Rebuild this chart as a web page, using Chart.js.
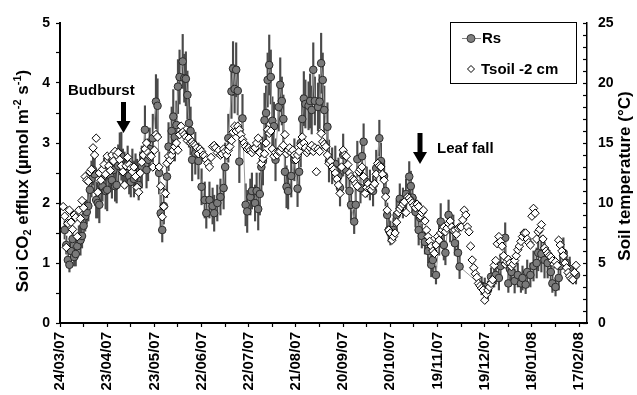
<!DOCTYPE html>
<html>
<head>
<meta charset="utf-8">
<script src="https://cdn.jsdelivr.net/npm/chart.js@4.4.0/dist/chart.umd.min.js"></script>
<style>
  html, body { margin: 0; padding: 0; background: #fff; }
  #wrap { width: 637px; height: 395px; }
</style>
</head>
<body>
<div id="wrap"><canvas id="soilChart" width="637" height="395"></canvas></div>
<script>
// x axis: days since 24/03/07, labelled every 30 days
var dateLabels = ["24/03/07", "23/04/07", "23/05/07", "22/06/07", "22/07/07", "21/08/07",
  "20/09/07", "20/10/07", "19/11/07", "19/12/07", "18/01/08", "17/02/08"];

// Soil CO2 efflux (Rs), umol m-2 s-1, with error (+/-)
var rsDays = [
  3, 4, 5, 6, 7, 8, 9, 10, 11, 12,
  13, 14, 15, 16, 17, 18, 19, 20, 21, 22,
  23, 24, 25, 26, 27, 28, 29, 30, 31, 32,
  33, 34, 35, 36, 37, 38, 39, 40, 41, 42,
  43, 44, 45, 46, 47, 48, 49, 50, 51, 52,
  54, 55, 56, 57, 59, 61, 62, 63, 64, 65,
  66, 68, 69, 71, 72, 73, 74, 75, 76, 78,
  79, 80, 81, 82, 83, 84, 86, 88, 90, 92,
  93, 95, 97, 98, 100, 102, 104, 105, 107, 109,
  110, 111, 112, 113, 114, 116, 118, 119, 121, 122,
  124, 125, 126, 127, 128, 129, 130, 131, 132, 133,
  134, 135, 136, 137, 139, 140, 141, 142, 143, 144,
  145, 147, 149, 151, 152, 153, 154, 155, 156, 158,
  159, 160, 161, 162, 164, 165, 166, 167, 168, 170,
  171, 173, 175, 177, 178, 180, 182, 184, 185, 187,
  188, 189, 191, 192, 193, 195, 197, 199, 201, 203,
  204, 206, 207, 208, 209, 210, 212, 214, 216, 218,
  220, 222, 223, 224, 226, 228, 229, 230, 232, 234,
  236, 237, 239, 241, 242, 244, 245, 247, 248, 250,
  251, 253, 254, 268, 270, 272, 274, 276, 277, 279,
  280, 283, 285, 286, 287, 289, 291, 293, 294, 296,
  297, 299, 301, 303, 304, 306, 308, 310, 312, 313,
  315, 317, 318, 320, 322, 324, 326, 328
];
var rsValues = [
  1.55, 1.30, 1.05, 0.97, 1.20, 1.40, 1.10, 1.15, 1.28, 1.42,
  1.38, 1.45, 1.62, 1.78, 1.85, 1.95, 2.22, 2.40, 2.55, 2.48,
  2.05, 2.00, 1.97, 2.30, 2.28, 2.45, 2.20, 2.22, 2.50, 2.45,
  2.38, 2.55, 2.28, 2.30, 2.62, 2.82, 2.78, 2.60, 2.55, 2.50,
  2.65, 2.45, 2.35, 2.60, 2.40, 2.52, 2.48, 2.30, 2.55, 2.60,
  3.22, 2.55, 2.72, 2.90, 3.08, 3.69, 3.62, 2.50, 1.83, 1.55,
  1.95, 2.44, 2.94, 3.20, 3.44, 3.10, 3.30, 3.94, 4.10, 4.36,
  4.08, 4.07, 3.80, 3.33, 3.20, 2.72, 2.83, 2.70, 2.27, 2.05,
  1.83, 2.05, 1.95, 1.83, 2.00, 2.10, 2.25, 2.60, 3.08, 3.86,
  4.24, 3.90, 4.22, 3.87, 2.69, 3.41, 1.97, 1.86, 2.10, 2.20,
  2.00, 2.20, 1.90, 2.15, 2.60, 2.70, 3.38, 3.50, 4.05, 4.30,
  4.10, 3.37, 3.28, 2.72, 3.60, 3.97, 3.70, 3.40, 2.52, 2.27,
  2.20, 2.45, 2.72, 2.24, 2.52, 3.00, 3.40, 3.74, 3.65, 3.62,
  3.70, 3.55, 4.22, 3.70, 3.60, 3.69, 4.33, 4.05, 3.55, 3.27,
  2.70, 2.62, 2.65, 2.45, 2.25, 2.80, 2.55, 2.20, 1.97, 1.69,
  1.97, 2.73, 2.25, 2.78, 3.02, 2.35, 2.30, 2.20, 2.58, 3.08,
  2.70, 2.45, 2.20, 1.80, 1.55, 1.50, 1.55, 1.80, 2.07, 2.00,
  2.15, 2.44, 2.28, 2.09, 1.85, 1.55, 1.75, 1.45, 1.35, 1.20,
  0.97, 1.05, 0.80, 1.38, 1.69, 1.30, 1.17, 1.80, 1.60, 1.55,
  1.33, 1.17, 0.94, 0.62, 0.60, 0.55, 0.77, 0.75, 0.80, 0.75,
  0.95, 1.42, 0.66, 0.90, 0.85, 0.70, 0.80, 0.66, 0.75, 0.64,
  0.85, 0.80, 0.95, 1.00, 1.17, 1.15, 1.05, 1.00, 0.85, 0.66,
  0.60, 0.75, 0.95, 1.17, 1.00, 0.90, 0.80, 0.80
];
var rsErr = [
  .15, .15, .12, .12, .15, .20, .15, .20, .20, .20,
  .25, .20, .25, .25, .20, .25, .25, .30, .25, .30,
  .30, .25, .30, .30, .25, .30, .30, .35, .30, .25,
  .30, .30, .25, .30, .35, .35, .40, .30, .30, .25,
  .30, .30, .25, .30, .30, .30, .25, .25, .30, .35,
  .40, .30, .35, .35, .40, .45, .45, .35, .30, .20,
  .30, .35, .40, .40, .45, .40, .40, .45, .45, .45,
  .40, .45, .40, .40, .40, .35, .35, .30, .30, .30,
  .25, .30, .30, .30, .30, .30, .35, .40, .40, .45,
  .45, .40, .45, .40, .35, .40, .35, .35, .30, .30,
  .30, .30, .35, .35, .40, .40, .45, .45, .45, .50,
  .45, .40, .40, .35, .40, .45, .40, .40, .35, .35,
  .30, .35, .35, .30, .35, .40, .40, .45, .40, .40,
  .45, .40, .45, .40, .40, .45, .50, .45, .40, .40,
  .35, .30, .30, .30, .30, .35, .30, .30, .25, .20,
  .30, .30, .25, .30, .30, .25, .25, .25, .30, .30,
  .30, .25, .25, .20, .20, .20, .20, .25, .25, .25,
  .25, .25, .25, .25, .25, .25, .25, .20, .20, .20,
  .20, .20, .15, .25, .30, .25, .20, .25, .25, .25,
  .20, .20, .20, .15, .15, .15, .15, .15, .15, .20,
  .20, .25, .15, .20, .20, .20, .20, .15, .20, .15,
  .20, .20, .25, .25, .30, .30, .30, .25, .20, .15,
  .15, .20, .20, .25, .20, .20, .15, .15
];

// Soil temperature at -2 cm, degC, one reading per day from day 2
var tsFirstDay = 2;
var tsValues = [
  9.7, 8.9, 6.3, 8.3, 9.4, 8.4, 7.8, 9.0, 8.8, 7.2,
  9.4, 8.7, 10.2, 9.6, 12.2, 11.9, 11.8, 12.6, 12.8, 14.6,
  14.0, 15.4, 10.9, 12.5, 11.9, 12.8, 13.2, 12.4, 13.9, 13.1,
  12.7, 14.0, 13.5, 14.3, 14.0, 14.2, 13.6, 13.1, 12.6, 11.5,
  13.1, 13.8, 13.2, 12.9, 12.6, 13.0, 12.2, 11.3, 10.9, 12.5,
  13.4, 14.0, 14.5, 15.0, 14.2, 13.9, 13.9, 13.0, 14.4, 15.7,
  15.5, 13.0, 11.4, 8.85, 9.7, 10.8, 13.3, 13.9, 13.6, 14.0,
  14.4, 14.7, 15.0, 14.4, 15.7, 16.4, 15.9, 15.7, 15.5, 15.2,
  15.4, 15.0, 15.1, 14.9, 14.8, 14.6, 14.1, 14.5, 14.3, 14.0,
  13.9, 13.6, 13.3, 13.0, 13.8, 14.7, 14.8, 14.6, 14.2, 14.4,
  14.0, 14.1, 14.5, 14.3, 14.0, 14.4, 14.7, 15.2, 15.9, 16.4,
  16.0, 16.4, 16.1, 15.7, 15.3, 15.0, 14.7, 14.5, 14.6, 14.4,
  14.2, 14.5, 14.6, 15.0, 15.4, 14.2, 13.3, 13.7, 14.1, 15.0,
  16.1, 15.8, 16.0, 14.5, 13.9, 14.2, 14.0, 14.3, 14.3, 14.6,
  14.8, 15.7, 14.1, 14.4, 14.6, 14.2, 14.4, 14.0, 13.6, 14.0,
  14.3, 14.8, 15.5, 15.0, 14.6, 14.2, 14.4, 14.6, 14.8, 14.3,
  14.6, 12.6, 14.5, 14.3, 15.8, 15.1, 14.9, 14.7, 14.0, 13.3,
  13.5, 13.0, 12.8, 12.5, 12.0, 11.5, 10.8, 13.0, 14.4, 14.0,
  13.9, 13.2, 12.5, 12.2, 12.0, 11.9, 11.6, 11.4, 12.6, 12.8,
  13.0, 12.2, 10.8, 11.3, 11.6, 11.2, 11.1, 11.4, 11.6, 12.4,
  13.3, 13.1, 13.0, 12.4, 11.9, 10.5, 9.4, 7.75, 7.5, 6.9,
  7.2, 7.5, 8.4, 9.2, 9.5, 9.7, 9.9, 10.1, 9.2, 10.5,
  10.4, 10.2, 10.0, 9.8, 9.6, 9.9, 9.7, 8.9, 9.2, 9.4,
  8.5, 7.75, 7.2, 6.8, 6.4, 6.0, 5.8, 6.5, 7.2, 6.9,
  7.5, 7.75, 8.0, 7.6, 7.9, 8.3, 8.5, 8.0, 7.7, 7.75,
  7.4, 7.9, 8.0, 8.0, 8.6, 9.4, 9.0, 8.0, 7.6, 6.4,
  5.25, 4.6, 4.1, 3.8, 3.3, 3.1, 2.9, 2.75, 1.9, 2.4,
  2.75, 3.0, 3.3, 3.6, 4.8, 5.2, 6.6, 7.2, 6.8, 6.4,
  5.6, 4.9, 5.1, 5.3, 5.0, 4.7, 4.9, 5.2, 5.6, 6.1,
  6.4, 6.8, 7.2, 7.5, 7.5, 7.0, 6.7, 6.5, 8.9, 9.55,
  9.15, 7.0, 7.6, 7.8, 8.2, 7.0, 6.25, 6.0, 5.8, 5.6,
  5.5, 5.2, 4.9, 5.1, 4.8, 6.9, 6.5, 6.0, 5.6, 5.0,
  4.6, 4.2, 3.9, 3.7, 3.6, 4.2, 4.8
];

var FONT = "'Liberation Sans', Arial, Helvetica, sans-serif";

var rsPoints = rsDays.map(function (d, i) {
  return { x: d, y: rsValues[i] };
});
var rsBars = rsDays.map(function (d, i) {
  return { x: d, y: [rsValues[i] - rsErr[i], rsValues[i] + rsErr[i]] };
});
var tsPoints = tsValues.map(function (v, i) {
  return { x: tsFirstDay + i, y: v };
});

// axis titles with sub/superscripts
function drawTitle(ctx, parts, cx, cy, size) {
  var small = Math.round(size * 0.65);
  var widths = [];
  var total = 0;
  ctx.save();
  ctx.translate(cx, cy);
  ctx.rotate(-Math.PI / 2);
  ctx.fillStyle = "#000";
  ctx.textBaseline = "middle";
  ctx.textAlign = "left";
  parts.forEach(function (p) {
    ctx.font = "bold " + (p[1] ? small : size) + "px " + FONT;
    var w = ctx.measureText(p[0]).width;
    widths.push(w);
    total += w;
  });
  var x = -total / 2;
  parts.forEach(function (p, i) {
    ctx.font = "bold " + (p[1] ? small : size) + "px " + FONT;
    var dy = 0;
    if (p[1] === 1) dy = -size * 0.32;
    if (p[1] === -1) dy = size * 0.3;
    ctx.fillText(p[0], x, dy);
    x += widths[i];
  });
  ctx.restore();
}

function drawArrow(ctx, x, top, tip) {
  ctx.fillStyle = "#000";
  ctx.fillRect(x - 2.5, top, 5, tip - top - 11);
  ctx.beginPath();
  ctx.moveTo(x - 7, tip - 12);
  ctx.lineTo(x + 7, tip - 12);
  ctx.lineTo(x, tip);
  ctx.closePath();
  ctx.fill();
}

var decorations = {
  id: "decorations",
  afterDraw: function (chart) {
    var ctx = chart.ctx;
    var y2 = chart.scales.y2;

    // inner tick marks on the temperature axis
    ctx.save();
    ctx.strokeStyle = "#000";
    ctx.lineWidth = 1.2;
    y2.ticks.forEach(function (t) {
      var py = Math.round(y2.getPixelForValue(t.value)) + 0.5;
      ctx.beginPath();
      ctx.moveTo(y2.left, py);
      ctx.lineTo(y2.left - 4, py);
      ctx.stroke();
    });

    // axis titles
    drawTitle(ctx, [["Soi CO", 0], ["2", -1], [" efflux (\u00b5mol m", 0], ["-2", 1],
      [" s", 0], ["-1", 1], [")", 0]], 23, 181, 17);
    drawTitle(ctx, [["Soil temperature (\u00b0C)", 0]], 625, 176, 17);

    // legend box
    ctx.lineWidth = 1;
    ctx.strokeStyle = "#000";
    ctx.strokeRect(450.5, 22.5, 126, 61);
    ctx.strokeStyle = "#808080";
    ctx.beginPath();
    ctx.moveTo(462, 38.5);
    ctx.lineTo(481, 38.5);
    ctx.stroke();
    ctx.beginPath();
    ctx.arc(471, 38.5, 4, 0, Math.PI * 2);
    ctx.fillStyle = "#808080";
    ctx.fill();
    ctx.strokeStyle = "#333";
    ctx.stroke();
    ctx.beginPath();
    ctx.moveTo(471, 65.5);
    ctx.lineTo(474.5, 69);
    ctx.lineTo(471, 72.5);
    ctx.lineTo(467.5, 69);
    ctx.closePath();
    ctx.fillStyle = "#fff";
    ctx.fill();
    ctx.strokeStyle = "#000";
    ctx.stroke();
    ctx.fillStyle = "#000";
    ctx.font = "bold 15px " + FONT;
    ctx.textBaseline = "middle";
    ctx.textAlign = "left";
    ctx.fillText("Rs", 482, 38.5);
    ctx.fillText("Tsoil -2 cm", 481, 69.5);

    // annotations
    ctx.fillText("Budburst", 68, 91);
    drawArrow(ctx, 123.5, 102, 133);
    ctx.fillText("Leaf fall", 437, 148.5);
    drawArrow(ctx, 420, 133, 164);
    ctx.restore();
  }
};

Chart.defaults.font.family = FONT;
Chart.defaults.font.weight = "bold";
Chart.defaults.color = "#000";

var ctx = document.getElementById("soilChart").getContext("2d");
var soilChart = new Chart(ctx, {
  type: "line",
  data: {
    datasets: [
      {
        type: "bar",
        label: "Rs error",
        data: rsBars,
        yAxisID: "y",
        backgroundColor: "#4a4a4a",
        borderWidth: 0,
        barThickness: 1.5,
        grouped: false,
        order: 3,
      },
      {
        label: "Rs",
        data: rsPoints,
        yAxisID: "y",
        borderColor: "#9a9a9a",
        borderWidth: 1,
        pointRadius: 3.8,
        pointBackgroundColor: "#7a7a7a",
        pointBorderColor: "#2a2a2a",
        pointBorderWidth: 1,
        tension: 0,
        order: 2,
      },
      {
        label: "Tsoil -2 cm",
        data: tsPoints,
        yAxisID: "y2",
        showLine: false,
        pointStyle: "rectRot",
        pointRadius: 4.2,
        pointBackgroundColor: "#fff",
        pointBorderColor: "#000",
        pointBorderWidth: 1,
        order: 1,
      },
    ],
  },
  options: {
    responsive: false,
    animation: false,
    layout: { padding: { top: 23, left: 0, right: 0, bottom: 0 } },
    plugins: {
      legend: { display: false },
      tooltip: { enabled: false },
    },
    scales: {
      x: {
        type: "linear",
        min: 0,
        max: 335,
        offset: false,
        grid: { display: true, drawOnChartArea: false, offset: false, tickLength: 4, tickColor: "#000", tickWidth: 1.2 },
        border: { display: true, color: "#000", width: 2 },
        afterBuildTicks: function (scale) {
          var list = [];
          for (var v = 0; v <= 330; v += 15) list.push({ value: v });
          scale.ticks = list;
        },
        ticks: {
          autoSkip: false,
          minRotation: 90,
          maxRotation: 90,
          padding: 5,
          font: { size: 15, weight: "bold" },
          callback: function (value) {
            if (value % 30 === 0 && dateLabels[value / 30]) return dateLabels[value / 30];
            return "";
          },
        },
        afterFit: function (scale) { scale.height = 72; },
      },
      y: {
        position: "left",
        min: 0,
        max: 5,
        grid: { drawOnChartArea: false, tickLength: 4, tickColor: "#000", tickWidth: 1.2 },
        border: { display: true, color: "#000", width: 2 },
        ticks: {
          stepSize: 0.5,
          autoSkip: false,
          padding: 6,
          font: { size: 14, weight: "bold" },
          callback: function (value) {
            return Number.isInteger(value) ? String(value) : "";
          },
        },
        afterFit: function (scale) { scale.width = 60; },
      },
      y2: {
        position: "right",
        min: 0,
        max: 25,
        grid: { drawOnChartArea: false, drawTicks: false },
        border: { display: true, color: "#000", width: 1.5 },
        ticks: {
          stepSize: 1,
          autoSkip: false,
          padding: 11,
          font: { size: 14, weight: "bold" },
          callback: function (value) {
            return value % 5 === 0 ? String(value) : "";
          },
        },
        afterFit: function (scale) { scale.width = 50; },
      },
    },
  },
  plugins: [decorations],
});
</script>
</body>
</html>
